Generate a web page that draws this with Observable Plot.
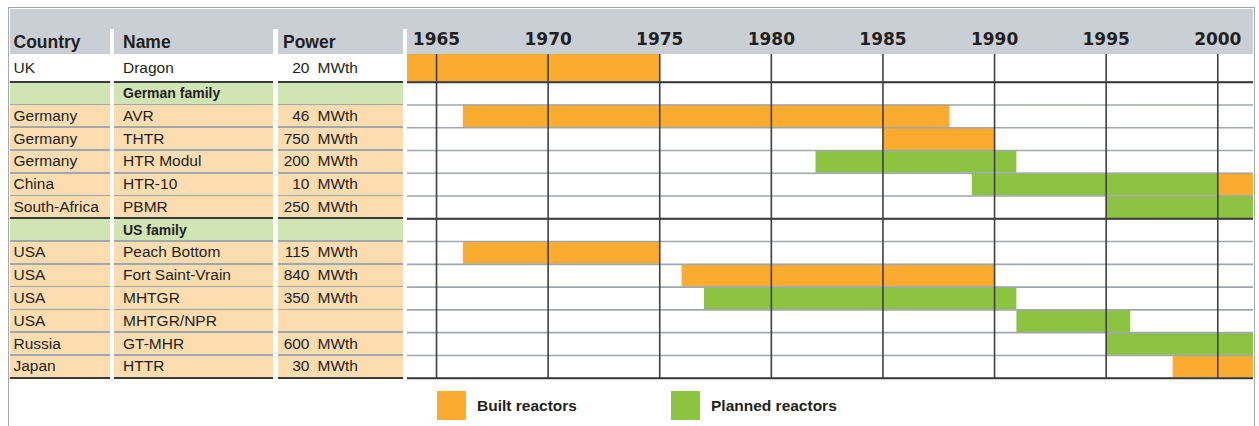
<!DOCTYPE html>
<html>
<head>
<meta charset="utf-8">
<script src="https://cdn.jsdelivr.net/npm/d3@7"></script>
<script src="https://cdn.jsdelivr.net/npm/@observablehq/plot@0.6"></script>
<style>
  body { margin: 0; background: #fff; font-family: "Liberation Sans", Arial, Helvetica, sans-serif; color: #231f20; }
  #page { position: relative; width: 1259px; height: 426px; overflow: hidden; }
  .abs { position: absolute; box-sizing: border-box; }
  .cell { display: flex; align-items: center; font-size: 15.5px; white-space: nowrap; }
  .fam { font-weight: bold; font-size: 14px; }
  .hdr { font-weight: bold; font-size: 17.5px; }
  .leg { font-weight: bold; font-size: 15.5px; }
</style>
</head>
<body>
<div id="page"></div>
<script>
// ---------- data ----------
const countries = ["UK", "", "Germany", "Germany", "Germany", "China", "South-Africa", "", "USA", "USA", "USA", "USA", "Russia", "Japan"];
const names = ["Dragon", "German family", "AVR", "THTR", "HTR Modul", "HTR-10", "PBMR", "US family", "Peach Bottom", "Fort Saint-Vrain", "MHTGR", "MHTGR/NPR", "GT-MHR", "HTTR"];
const powers = [20, null, 46, 750, 200, 10, 250, null, 115, 840, 350, null, 600, 30];
const powerUnit = "MWth";
const rowGroups = ["UK", "German", "German", "German", "German", "German", "German", "US", "US", "US", "US", "US", "US", "US"];
const familyRows = ["German family", "US family"];
const headers = ["Country", "Name", "Power"];

const builtNames = ["Dragon", "AVR", "THTR", "HTR-10", "Peach Bottom", "Fort Saint-Vrain", "HTTR"];
const builtStart = [1963, 1966.2, 1985, 2000, 1966.2, 1976, 1998];
const builtEnd   = [1975, 1988, 1990, 2003, 1975, 1990, 2003];

const plannedNames = ["HTR Modul", "HTR-10", "PBMR", "MHTGR", "MHTGR/NPR", "GT-MHR"];
const plannedStart = [1982, 1989, 1995, 1977, 1991, 1995];
const plannedEnd   = [1991, 2000, 2003, 1991, 1996.1, 2003];

const yearTicks = [1965, 1970, 1975, 1980, 1985, 1990, 1995, 2000];
const statusLabels = ["Built reactors", "Planned reactors"];
const statusColors = ["#fbab2f", "#8cc441"];

// ---------- derived tables ----------
const bars = [
  ...builtNames.map((n, i) => ({name: n, row: names.indexOf(n), start: builtStart[i], end: builtEnd[i], status: statusLabels[0]})),
  ...plannedNames.map((n, i) => ({name: n, row: names.indexOf(n), start: plannedStart[i], end: plannedEnd[i], status: statusLabels[1]}))
];
const boundaries = d3.range(1, names.length + 1);
const darkBoundaries = boundaries.filter(b => b === names.length || rowGroups[b] !== rowGroups[b - 1]);

// ---------- layout ----------
const page = document.getElementById("page");
function div(cls, style, text) {
  const d = document.createElement("div");
  d.className = cls;
  Object.assign(d.style, style);
  if (text != null) d.textContent = text;
  page.appendChild(d);
  return d;
}

const chartLeft = 407, chartRight = 1253;
const headerBottom = 54;           // bottom of the grey header band
const rowsTop = 58.9, rowsBottom = 377.7, svgHeight = 385;
const firstRowExtra = rowsTop - headerBottom;  // first row is drawn taller, up to the header

// ---------- chart ----------
const rectOpts = {x1: "start", x2: "end", y1: "row", y2: d => d.row + 1, fill: "status", clip: true};
const chart = Plot.plot({
  width: chartRight - chartLeft,
  height: svgHeight,
  marginLeft: 0, marginRight: 0, marginTop: headerBottom, marginBottom: svgHeight - rowsBottom,
  style: {background: "transparent", overflow: "visible", fontFamily: "'Liberation Sans', Arial, sans-serif", color: "#231f20"},
  x: {domain: [1963.7, 2001.6], axis: null},
  y: {domain: [0, names.length], range: [rowsTop, rowsBottom], axis: null},
  color: {domain: statusLabels, range: statusColors},
  marks: [
    Plot.rect(bars.filter(d => d.row === 0), {...rectOpts, insetTop: -firstRowExtra}),
    Plot.rect(bars.filter(d => d.row !== 0), rectOpts),
    Plot.ruleY(boundaries, {stroke: "#a0a7ae", strokeWidth: 1.6}),
    Plot.ruleY(darkBoundaries, {stroke: "#3a3a3a", strokeWidth: 2}),
    Plot.ruleX(yearTicks, {stroke: "#404040", strokeWidth: 1.6}),
    Plot.axisX(yearTicks, {anchor: "top", tickSize: 0, tickPadding: 10, fontSize: 17, fontWeight: "bold",
      fontFamily: "'DejaVu Sans', sans-serif", tickFormat: d => String(d)})
  ]
});
chart.style.position = "absolute";
chart.style.left = chartLeft + "px";
chart.style.top = "0px";

const y = chart.scale("y");
const rowTop = i => i === 0 ? headerBottom : y.apply(i);

// frame + header band
div("abs", {left: "8px", top: "7px", width: (chartRight - 8 + 1.5) + "px", height: "430px",
  borderLeft: "1.5px solid #a3a9af", borderTop: "1.5px solid #9ea4aa", borderRight: "1.5px solid #a3a9af"});
div("abs", {left: "9.5px", top: "8.5px", width: (chartRight - 9.5) + "px", height: (headerBottom - 8.5) + "px", background: "#cacfd6"});

const cols = [[9.5, 110], [114, 273], [278, 403]];
// white header separators
[[110, 114], [273, 278], [403, 407]].forEach(([a, b]) =>
  div("abs", {left: a + "px", top: "29px", width: (b - a) + "px", height: (headerBottom - 29) + "px", background: "#fff"}));
// header texts
const hdrPad = [4, 9, 5];
headers.forEach((h, j) =>
  div("abs hdr", {left: (cols[j][0] + hdrPad[j]) + "px", top: "31.5px", lineHeight: "20px"}, h));

page.appendChild(chart);

// ---------- table (aligned on the chart's y scale) ----------
names.forEach((name, i) => {
  const top = rowTop(i), bottom = y.apply(i + 1);
  const isFam = familyRows.includes(name);
  const bg = i === 0 ? "#ffffff" : isFam ? "#d1e4b4" : "#fddcb0";
  cols.forEach(([a, b]) => div("abs", {left: a + "px", top: top + "px", width: (b - a) + "px", height: (bottom - top) + "px", background: bg}));
  const h = (bottom - top) + "px";
  div("abs cell", {left: (cols[0][0] + 4) + "px", top: top + "px", height: h}, countries[i]);
  div("abs cell" + (isFam ? " fam" : ""), {left: (cols[1][0] + 9) + "px", top: top + "px", height: h}, name);
  if (powers[i] != null) {
    div("abs cell", {left: "270px", width: "39.5px", justifyContent: "flex-end", top: top + "px", height: h}, String(powers[i]));
    div("abs cell", {left: "317.5px", top: top + "px", height: h}, powerUnit);
  }
});
boundaries.forEach(b => {
  const yy = y.apply(b);
  const dark = darkBoundaries.includes(b);
  const w = dark ? 2 : 1.6;
  cols.forEach(([a, c]) => div("abs", {left: a + "px", top: (yy - w / 2) + "px", width: (c - a) + "px", height: w + "px", background: dark ? "#3a3a3a" : "#a0a7ae"}));
});

// ---------- legend (below the chart) ----------
const legX = [437, 671];
statusLabels.forEach((lab, k) => {
  div("abs", {left: legX[k] + "px", top: "391px", width: "29px", height: "29px", background: statusColors[k]});
  div("abs leg", {left: (legX[k] + 40) + "px", top: "396px", lineHeight: "20px"}, lab);
});
</script>
</body>
</html>
